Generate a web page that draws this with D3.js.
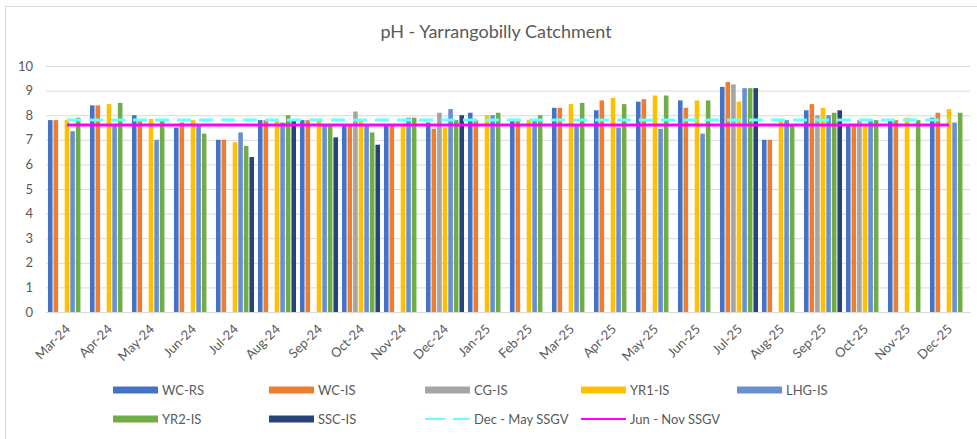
<!DOCTYPE html>
<html>
<head>
<meta charset="utf-8">
<script src="https://cdn.jsdelivr.net/npm/d3@7"></script>
<style>
  body { margin: 0; background: #fff; }
  svg { display: block; font-family: Lato, "Open Sans", sans-serif; }
</style>
</head>
<body>
<div id="chart"></div>
<script>
// months along the x axis
var months = ["Mar-24", "Apr-24", "May-24", "Jun-24", "Jul-24", "Aug-24", "Sep-24", "Oct-24",
    "Nov-24", "Dec-24", "Jan-25", "Feb-25", "Mar-25", "Apr-25", "May-25", "Jun-25", "Jul-25",
    "Aug-25", "Sep-25", "Oct-25", "Nov-25", "Dec-25"];

var seriesNames = ["WC-RS", "WC-IS", "CG-IS", "YR1-IS", "LHG-IS", "YR2-IS", "SSC-IS"];
var seriesColors = ["#4472C4", "#ED7D31", "#A5A5A5", "#FFC000", "#6A8FD1", "#70AD47", "#264478"];

// pH readings, null = no sample
var wcRS = [7.8, 8.4, 8.0, 7.5, 7.0, 7.8, 7.8, 7.6, 7.6, 7.7, 8.1, 7.8, 8.3, 8.2, 8.55, 8.6, 9.15, 7.0, 8.2, 7.6, 7.8, 7.9];
var wcIS = [7.8, 8.4, 7.8, 7.7, 7.0, 7.8, 7.8, 7.6, 7.6, 7.45, 7.8, 7.8, 8.3, 8.6, 8.65, 8.3, 9.35, 7.0, 8.45, 7.6, 7.8, 8.1];
var cgIS = [null, null, null, null, null, null, null, 8.15, null, 8.1, null, null, null, null, null, null, 9.25, null, 8.0, 7.8, null, null];
var yr1IS = [7.8, 8.45, 7.85, 7.8, 6.9, 7.8, 7.8, 7.8, 7.6, 7.5, 8.0, 7.8, 8.45, 8.7, 8.8, 8.6, 8.55, 7.8, 8.3, 7.6, 7.9, 8.25];
var lhgIS = [7.35, 7.6, 7.0, 7.6, 7.3, 7.7, 7.6, 7.6, 7.9, 8.25, 8.0, 7.8, 7.6, 7.5, 7.45, 7.25, 9.1, 7.8, 8.0, 7.8, null, 7.7];
var yr2IS = [7.9, 8.5, 7.8, 7.25, 6.75, 8.0, 7.6, 7.3, 7.9, 7.8, 8.1, 8.0, 8.5, 8.45, 8.8, 8.6, 9.1, 7.6, 8.1, 7.8, 7.8, 8.1];
var sscIS = [null, null, null, null, 6.3, 7.8, 7.1, 6.8, null, 8.0, null, null, null, null, null, null, 9.1, null, 8.2, null, null, null];

var seriesValues = [wcRS, wcIS, cgIS, yr1IS, lhgIS, yr2IS, sscIS];

// guideline values
var ssgvDecMay = 7.8;
var ssgvJunNov = 7.6;

var yTicks = [0, 1, 2, 3, 4, 5, 6, 7, 8, 9, 10];

var W = 977, H = 439;
var plotLeft = 46, plotRight = 970, plotTop = 66, plotBottom = 312;
var textColor = "#595959";

var svg = d3.select("#chart").append("svg")
    .attr("width", W)
    .attr("height", H);

// chart frame
svg.append("rect")
    .attr("x", 5.5).attr("y", 6.5)
    .attr("width", W + 10).attr("height", H + 10)
    .attr("fill", "#fff")
    .attr("stroke", "#D9D9D9");

svg.append("text")
    .attr("x", 496).attr("y", 38)
    .attr("text-anchor", "middle")
    .attr("font-size", 18)
    .attr("fill", textColor)
    .text("pH - Yarrangobilly Catchment");

var x = d3.scaleBand()
    .domain(months)
    .range([plotLeft, plotRight])
    .paddingInner(0.07)
    .paddingOuter(0.035);

var xInner = d3.scaleBand()
    .domain(seriesNames)
    .range([0, x.bandwidth()]);

var y = d3.scaleLinear()
    .domain([0, 10])
    .range([plotBottom, plotTop]);

// gridlines + y labels
var yAxis = svg.append("g")
    .attr("transform", "translate(" + plotLeft + ",0)")
    .call(d3.axisLeft(y).tickValues(yTicks).tickSize(-(plotRight - plotLeft)).tickPadding(13));
yAxis.select(".domain").remove();
yAxis.selectAll("line").attr("stroke", "#D9D9D9");
yAxis.selectAll("text")
    .attr("font-size", 13)
    .attr("fill", textColor)
    .style("font-family", "Lato, 'Open Sans', sans-serif");

// bars
var barData = [];
seriesNames.forEach(function(name, i) {
    seriesValues[i].forEach(function(v, j) {
        if (v != null) barData.push({ s: name, m: months[j], v: v, c: seriesColors[i] });
    });
});

svg.append("g").selectAll("rect")
    .data(barData)
    .enter().append("rect")
    .attr("x", function(d) { return x(d.m) + xInner(d.s) + 0.5; })
    .attr("width", xInner.bandwidth() - 1)
    .attr("y", function(d) { return y(d.v); })
    .attr("height", function(d) { return y(0) - y(d.v); })
    .attr("fill", function(d) { return d.c; });

// x axis
var xAxis = svg.append("g")
    .attr("transform", "translate(0," + plotBottom + ")")
    .call(d3.axisBottom(x).tickSize(0).tickPadding(0));
xAxis.select(".domain").attr("stroke", "#D9D9D9");
xAxis.selectAll("text")
    .attr("font-size", 13)
    .attr("fill", textColor)
    .style("font-family", "Lato, 'Open Sans', sans-serif")
    .attr("text-anchor", "end")
    .attr("dy", null)
    .attr("y", 0)
    .attr("transform", "translate(4,18) rotate(-45)");

// guideline lines
var guide = d3.line()
    .x(function(d) { return x(d.m) + x.bandwidth() / 2; })
    .y(function(d) { return y(d.v); });

svg.append("path")
    .datum(months.map(function(m) { return { m: m, v: ssgvDecMay }; }))
    .attr("d", guide)
    .attr("fill", "none")
    .attr("stroke", "#66FFFF")
    .attr("stroke-width", 3)
    .attr("stroke-dasharray", "14,8");

svg.append("path")
    .datum(months.map(function(m) { return { m: m, v: ssgvJunNov }; }))
    .attr("d", guide)
    .attr("fill", "none")
    .attr("stroke", "#FF00FF")
    .attr("stroke-width", 3);

// legend
var legendItems = [
    { name: "WC-RS", type: "bar", color: seriesColors[0] },
    { name: "WC-IS", type: "bar", color: seriesColors[1] },
    { name: "CG-IS", type: "bar", color: seriesColors[2] },
    { name: "YR1-IS", type: "bar", color: seriesColors[3] },
    { name: "LHG-IS", type: "bar", color: seriesColors[4] },
    { name: "YR2-IS", type: "bar", color: seriesColors[5] },
    { name: "SSC-IS", type: "bar", color: seriesColors[6] },
    { name: "Dec - May SSGV", type: "dash", color: "#66FFFF" },
    { name: "Jun - Nov SSGV", type: "line", color: "#FF00FF" }
];

var legend = svg.append("g").selectAll("g")
    .data(legendItems)
    .enter().append("g")
    .attr("transform", function(d, i) {
        return "translate(" + (113 + 156 * (i % 5)) + "," + (i < 5 ? 390 : 419) + ")";
    });

legend.each(function(d) {
    var g = d3.select(this);
    if (d.type === "bar") {
        g.append("rect")
            .attr("x", 0).attr("y", -3.5)
            .attr("width", 45).attr("height", 7)
            .attr("fill", d.color);
    } else {
        g.append("line")
            .attr("x1", 0).attr("x2", 45)
            .attr("stroke", d.color)
            .attr("stroke-width", 2)
            .attr("stroke-dasharray", d.type === "dash" ? "20,8" : null);
    }
    g.append("text")
        .attr("x", 49).attr("y", 0)
        .attr("dy", "0.35em")
        .attr("font-size", 13)
        .attr("fill", textColor)
        .text(d.name);
});
</script>
</body>
</html>
